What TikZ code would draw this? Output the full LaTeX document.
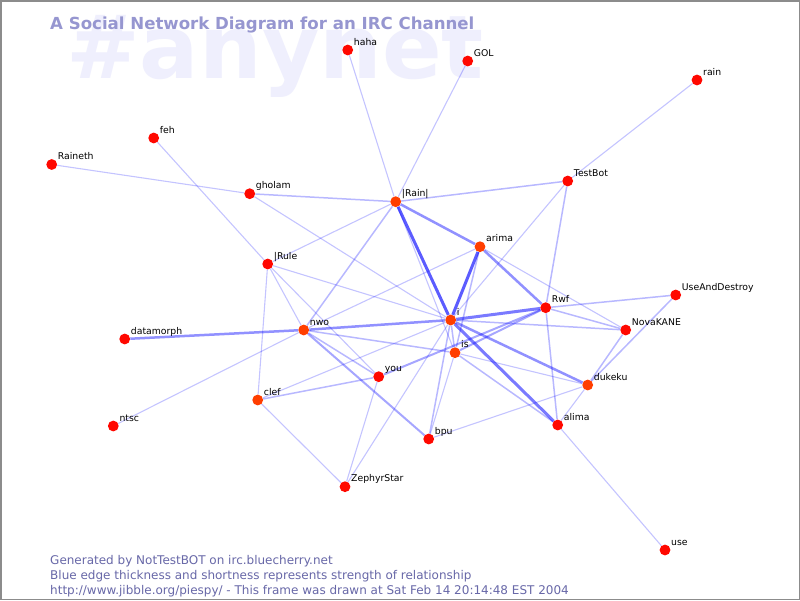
\documentclass[tikz,border=0pt]{standalone}
\usepackage{fontspec}
\setmainfont{DejaVu Sans}
\usetikzlibrary{backgrounds}
\definecolor{nred}{RGB}{255,8,0}
\definecolor{norange}{RGB}{255,62,0}
\definecolor{wmark}{RGB}{239,239,253}
\definecolor{ttl}{RGB}{150,150,208}
\definecolor{foot}{RGB}{104,104,168}
\definecolor{frame}{RGB}{140,140,140}
\begin{document}
\begin{tikzpicture}[x=1pt,y=-1pt,
  nd/.style={circle,fill=nred,inner sep=0pt,minimum size=10.8pt},
  ndo/.style={nd,fill=norange},
  lbl/.style={anchor=base west,inner sep=0pt,font=\fontsize{9.3}{11}\selectfont},
  ft/.style={anchor=base west,inner sep=0pt,text=foot,font=\fontsize{12}{14}\selectfont},
  ea/.style={draw=blue,line width=1.1pt,opacity=.23},
  eb/.style={draw=blue,line width=1.5pt,opacity=.28},
  ec/.style={draw=blue,line width=2pt,opacity=.35},
  ed/.style={draw=blue,line width=2.5pt,opacity=.43},
  ee/.style={draw=blue,line width=3pt,opacity=.52}]
\useasboundingbox (0,0) rectangle (800,600);
% nodes
\node[nd]  (haha)      at (347.7,50) {};
\node[nd]  (GOL)       at (467.7,61) {};
\node[nd]  (rain)      at (697,80) {};
\node[nd]  (feh)       at (153.7,138) {};
\node[nd]  (Raineth)   at (51.7,164.5) {};
\node[nd]  (gholam)    at (249.7,193.7) {};
\node[ndo] (Rain)      at (395.7,201.7) {};
\node[nd]  (TestBot)   at (567.7,181) {};
\node[ndo] (arima)     at (480,246.7) {};
\node[nd]  (Rule)      at (267.7,264) {};
\node[nd]  (UAD)       at (675.7,295) {};
\node[nd]  (Rwf)       at (545.7,307.7) {};
\node[ndo] (i)         at (450.7,320) {};
\node[nd]  (Nova)      at (625.7,330) {};
\node[ndo] (nwo)       at (303.7,330) {};
\node[nd]  (datamorph) at (124.7,339) {};
\node[ndo] (is)        at (455,352.7) {};
\node[nd]  (you)       at (378.7,376.7) {};
\node[ndo] (dukeku)    at (587.7,385) {};
\node[ndo] (clef)      at (257.7,400) {};
\node[nd]  (ntsc)      at (113.3,426) {};
\node[nd]  (alima)     at (557.7,425) {};
\node[nd]  (bpu)       at (428.7,439) {};
\node[nd]  (Zephyr)    at (345,486.7) {};
\node[nd]  (use)       at (665,550) {};
% labels
\foreach \n/\t in {haha/haha,GOL/GOL,rain/rain,feh/feh,Raineth/Raineth,gholam/gholam,Rain/{|Rain|},TestBot/TestBot,arima/arima,Rule/{|Rule},UAD/UseAndDestroy,Rwf/Rwf,i/i,Nova/NovaKANE,nwo/nwo,datamorph/datamorph,is/is,you/you,dukeku/dukeku,clef/clef,ntsc/ntsc,alima/alima,bpu/bpu,Zephyr/ZephyrStar,use/use}
  \node[lbl] (\n-l) at ([shift={(6,-5)}]\n.center) {\t};
% footer
\node[ft] (f1) at (50,564.7) {Generated by NotTestBOT on irc.bluecherry.net};
\node[ft] (f2) at (50,579.5) {Blue edge thickness and shortness represents strength of relationship};
\node[ft] (f3) at (50,594.2) {http://www.jibble.org/piespy/ - This frame was drawn at Sat Feb 14 20:14:48 EST 2004};
\begin{scope}[on background layer]
  \fill[white] (0,0) rectangle (800,600);
  \node[anchor=base west,inner sep=0pt,text=wmark,font=\fontsize{88}{92}\selectfont\bfseries] (wm) at (66,78) {\#anynet};
  \node[anchor=base west,inner sep=0pt,text=ttl,font=\fontsize{16.6}{20}\selectfont\bfseries] (title) at (50,29.3) {A Social Network Diagram for an IRC Channel};
  % thin edges
  \draw[ea] (haha) -- (Rain);
  \draw[ea] (GOL) -- (Rain);
  \draw[ea] (rain) -- (TestBot);
  \draw[ea] (feh) -- (Rule);
  \draw[ea] (Raineth) -- (gholam);
  \draw[eb] (gholam) -- (Rain);
  \draw[ea] (gholam) -- (i);
  \draw[ea] (Rule) -- (Rain);
  \draw[ea] (Rule) -- (i);
  \draw[ea] (Rule) -- (nwo);
  \draw[ea] (Rule) -- (you);
  \draw[ea] (Rule) -- (clef);
  \draw[eb] (Rain) -- (TestBot);
  \draw[eb] (Rain) -- (nwo);
  \draw[ea] (Rain) -- (is);
  \draw[ea] (TestBot) -- (i);
  \draw[eb] (TestBot) -- (Rwf);
  \draw[eb] (Rwf) -- (alima);
  \draw[ea] (arima) -- (Nova);
  \draw[ea] (arima) -- (nwo);
  \draw[eb] (arima) -- (is);
  \draw[eb] (Rwf) -- (UAD);
  \draw[eb] (Rwf) -- (Nova);
  \draw[eb] (i) -- (Nova);
  \draw[eb] (UAD) -- (dukeku);
  \draw[eb] (Nova) -- (dukeku);
  \draw[ea] (dukeku) -- (alima);
  \draw[ea] (dukeku) -- (bpu);
  \draw[ea] (is) -- (dukeku);
  \draw[eb] (is) -- (alima);
  \draw[ea] (alima) -- (use);
  \draw[ea] (nwo) -- (ntsc);
  \draw[eb] (nwo) -- (you);
  \draw[ec] (nwo) -- (bpu);
  \draw[eb] (nwo) -- (is);
  \draw[eb] (clef) -- (you);
  \draw[ea] (clef) -- (i);
  \draw[ea] (clef) -- (Zephyr);
  \draw[ea] (you) -- (Zephyr);
  \draw[ea] (Zephyr) -- (i);
  \draw[eb] (i) -- (bpu);
  \draw[ea] (is) -- (bpu);
  \draw[eb] (i) -- (is);
  % strong edges
  \draw[ed] (datamorph) -- (nwo);
  \draw[ed] (nwo) -- (i);
  \draw[ed] (Rain) -- (arima);
  \draw[ed] (arima) -- (Rwf);
  \draw[ee] (i) -- (Rwf);
  \draw[ec] (is) -- (Rwf);
  \draw[ec] (you) -- (Rwf);
  \draw[ed] (i) -- (dukeku);
  \draw[ee] (i) -- (alima);
  \draw[ee,opacity=.64] (Rain) -- (i);
  \draw[ee,opacity=.64] (arima) -- (i);
\end{scope}
\draw[frame,line width=1.5pt] (0.75,0.75) rectangle (799.25,599.25);
\end{tikzpicture}
\end{document}
